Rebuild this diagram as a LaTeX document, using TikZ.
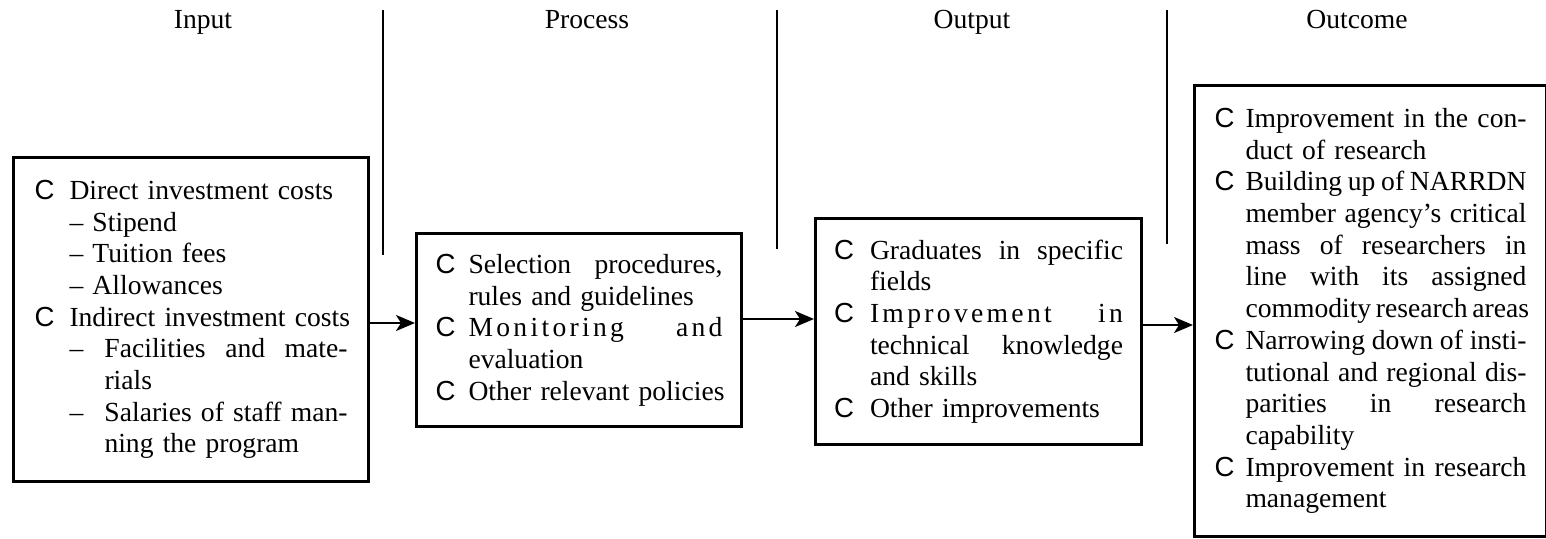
\documentclass[tikz,border=0pt]{standalone}
\usepackage{fontspec}
\setmainfont{Liberation Serif}
\newfontfamily\bulf{Liberation Sans}
\usetikzlibrary{arrows.meta}
\newcommand\Bi[1]{\mbox{\makebox[\bulw][l]{\bulf C}#1}}
\newcommand\Ci[1]{\mbox{\hspace*{\bulw}#1}}
\newcommand\Jl[2]{{\spaceskip=0pt\xspaceskip=0pt\makebox[#1][s]{#2}}}
\newcommand\Ls[1]{{\addfontfeature{LetterSpace=12}#1}}
\begin{document}
\begin{tikzpicture}[x=1pt,y=-1pt,
  txt/.style={font=\fontsize{27.6}{31.7}\selectfont, inner sep=0pt},
  box/.style={txt, draw, line width=3pt, anchor=north west, align=left},
  sep/.style={line width=2pt},
  arr/.style={line width=2pt, -{Stealth[length=19pt,width=16pt,inset=5pt]}}]
\useasboundingbox (0,0) rectangle (1546,538);
% headers
\node[txt, anchor=base] (hin)  at (203,28)  {Input};
\node[txt, anchor=base] (hpr)  at (587,28)  {Process};
\node[txt, anchor=base] (hou)  at (972,28)  {Output};
\node[txt, anchor=base] (hoc)  at (1357,28) {Outcome};
% separators
\coordinate (s1t) at (383,10);  \coordinate (s1b) at (383,255);
\coordinate (s2t) at (777,10);  \coordinate (s2b) at (777,249);
\coordinate (s3t) at (1167,10); \coordinate (s3b) at (1167,244);
\draw[sep] (s1t) -- (s1b);
\draw[sep] (s2t) -- (s2b);
\draw[sep] (s3t) -- (s3b);
% boxes
\node[box, minimum width=355pt, minimum height=324pt, text width=313pt] (b1) at (12,156) {\def\bulw{35pt}%
\Bi{Direct investment costs}\\
\Ci{– Stipend}\\
\Ci{– Tuition fees}\\
\Ci{– Allowances}\\
\Bi{Indirect investment costs}\\
\Ci{\makebox[35pt][l]{–}\Jl{243pt}{Facilities and mate-}}\\
\Ci{\hspace*{35pt}rials}\\
\Ci{\makebox[35pt][l]{–}\Jl{243pt}{Salaries of staff man-}}\\
\Ci{\hspace*{35pt}ning the program}};
\node[box, minimum width=325pt, minimum height=193pt, text width=287pt] (b2) at (415,232) {\def\bulw{33pt}%
\Bi{\Jl{254pt}{Selection procedures,}}\\
\Ci{rules and guidelines}\\
\Bi{\Jl{254pt}{\Ls{Monitoring} \Ls{and}}}\\
\Ci{evaluation}\\
\Bi{Other relevant policies}};
\node[box, minimum width=326pt, minimum height=226pt, text width=289pt] (b3) at (814,217) {\def\bulw{36pt}%
\Bi{\Jl{253pt}{Graduates in specific}}\\
\Ci{fields}\\
\Bi{\Jl{253pt}{\Ls{Improvement} \Ls{in}}}\\
\Ci{\Jl{253pt}{technical knowledge}}\\
\Ci{and skills}\\
\Bi{Other improvements}};
\node[box, minimum width=352pt, minimum height=451pt, text width=312pt] (b4) at (1193,84) {\def\bulw{31pt}%
\Bi{\Jl{281pt}{Improvement in the con-}}\\
\Ci{duct of research}\\
\Bi{\Jl{281pt}{Building up of NARRDN}}\\
\Ci{\Jl{281pt}{member agency’s critical}}\\
\Ci{\Jl{281pt}{mass of researchers in}}\\
\Ci{\Jl{281pt}{line with its assigned}}\\
\Ci{\Jl{281pt}{commodity research areas}}\\
\Bi{\Jl{281pt}{Narrowing down of insti-}}\\
\Ci{\Jl{281pt}{tutional and regional dis-}}\\
\Ci{\Jl{281pt}{parities in research}}\\
\Ci{capability}\\
\Bi{\Jl{281pt}{Improvement in research}}\\
\Ci{management}};
% arrows
\draw[arr] (b1.east |- 0,323) -- (b2.west |- 0,323);
\draw[arr] (b2.east |- 0,319) -- (b3.west |- 0,319);
\draw[arr] (b3.east |- 0,325) -- (b4.west |- 0,325);
\end{tikzpicture}
\end{document}
